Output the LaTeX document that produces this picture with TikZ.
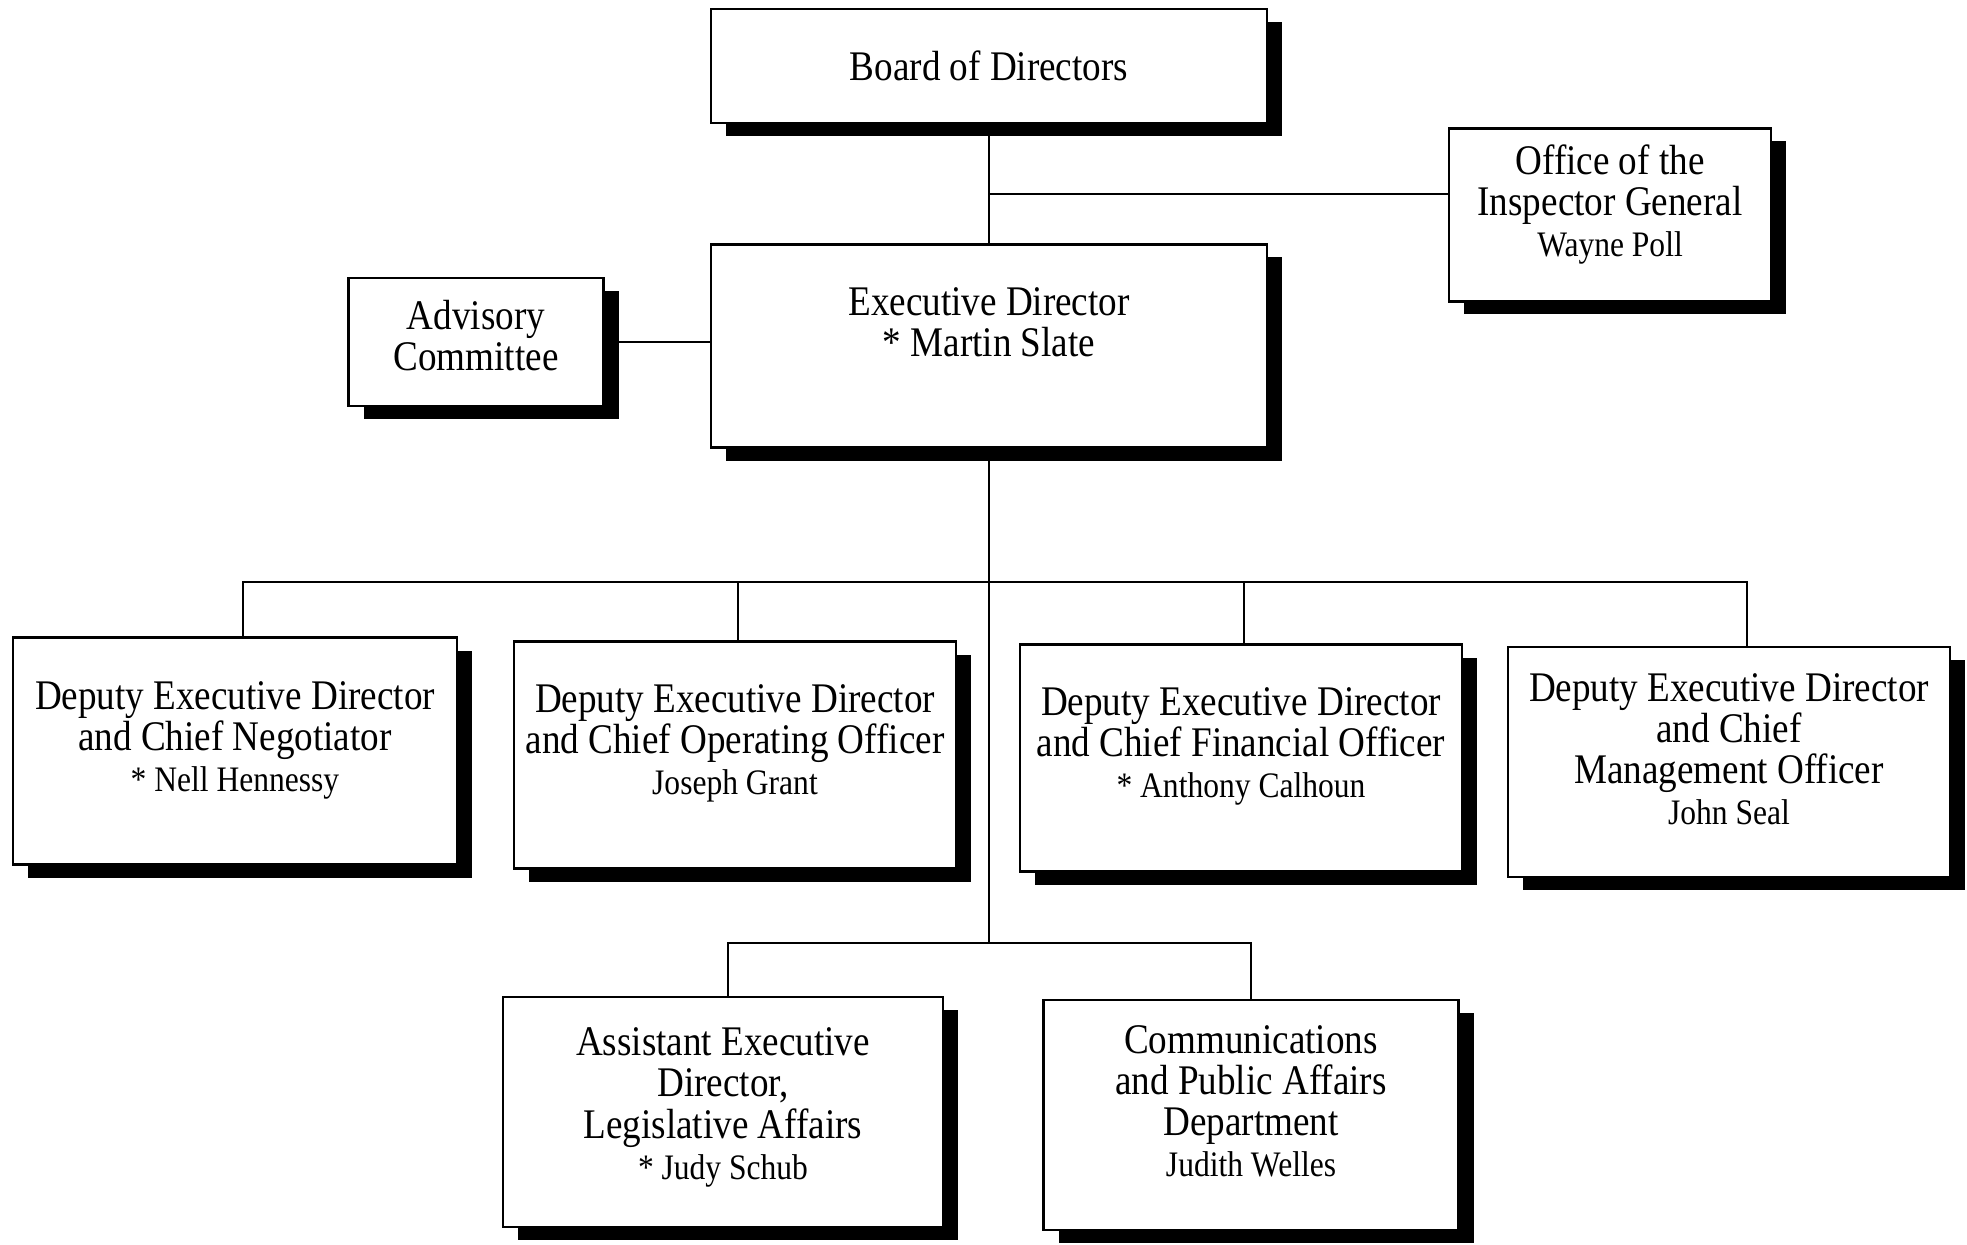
\documentclass[tikz,border=0pt]{standalone}
\usepackage{fontspec}
\setmainfont[FakeStretch=0.88]{Liberation Serif}
\usepackage{tikz}
\usetikzlibrary{shadows}
\newcommand{\who}[1]{{\fontsize{10.2}{11.5}\selectfont #1}}
\newcommand{\lift}[1]{\rule[-#1]{0pt}{#1}}

\begin{document}
\begin{tikzpicture}[
		box/.style={draw=black, fill=white, line width=0.8pt, align=center, inner sep=1pt,
			font=\fontsize{12}{11.7}\selectfont,
			drop shadow={shadow xshift=0.15cm, shadow yshift=-0.13cm, fill=black, opacity=1}},
		line/.style={line width=0.8pt}]
		\useasboundingbox (0,0) rectangle (19.67,-12.45);
		
		\node[box, minimum width=5.56cm, minimum height=1.14cm] (board) at (9.89,-0.66) {Board of Directors};
		\node[box, minimum width=3.22cm, minimum height=1.73cm] (oig) at (16.10,-2.15) {Office of the\\Inspector General\\\who{Wayne Poll}\lift{0.29cm}};
		\node[box, minimum width=2.55cm, minimum height=1.28cm] (adv) at (4.76,-3.42) {Advisory\\Committee\lift{0.14cm}};
		\node[box, minimum width=5.56cm, minimum height=2.03cm] (exec) at (9.89,-3.46) {Executive Director\\* Martin Slate\lift{0.48cm}};
		
		\node[box, minimum width=4.44cm, minimum height=2.27cm] (ded1) at (2.35,-7.51) {Deputy Executive Director\\and Chief Negotiator\\\who{* Nell Hennessy}\lift{0.29cm}};
		\node[box, minimum width=4.42cm, minimum height=2.27cm] (ded2) at (7.35,-7.55) {Deputy Executive Director\\and Chief Operating Officer\\\who{Joseph Grant}\lift{0.31cm}};
		\node[box, minimum width=4.42cm, minimum height=2.27cm] (ded3) at (12.41,-7.58) {Deputy Executive Director\\and Chief Financial Officer\\\who{* Anthony Calhoun}\lift{0.31cm}};
		\node[box, minimum width=4.42cm, minimum height=2.30cm] (ded4) at (17.29,-7.62) {Deputy Executive Director\\and Chief\\Management Officer\\\who{John Seal}\lift{0.26cm}};
		
		\node[box, minimum width=4.40cm, minimum height=2.30cm] (aed) at (7.23,-11.12) {Assistant Executive\\Director,\\Legislative Affairs\\\who{* Judy Schub}\lift{0.17cm}};
		\node[box, minimum width=4.15cm, minimum height=2.30cm] (comm) at (12.51,-11.15) {Communications\\and Public Affairs\\Department\\\who{Judith Welles}\lift{0.28cm}};
		
		\coordinate (ig) at (9.89,-1.94);
		\coordinate (bus) at (9.89,-5.82);
		\coordinate (lowbus) at (9.89,-9.43);
		
		\draw[line] (board.south) -- (exec.north);
		\draw[line] (ig) -- (ig -| oig.west);
		\draw[line] (adv.east) -- (adv.east -| exec.west);
		\draw[line] (exec.south) -- (lowbus);
		\draw[line] ([xshift=0.08cm]ded1.north) |- (bus) -| ([xshift=0.18cm]ded4.north);
		\draw[line] (bus) -| ([xshift=0.03cm]ded2.north);
		\draw[line] (bus) -| ([xshift=0.03cm]ded3.north);
		\draw[line] ([xshift=0.05cm]aed.north) |- (lowbus) -| (comm.north);
	\end{tikzpicture}
\end{document}
